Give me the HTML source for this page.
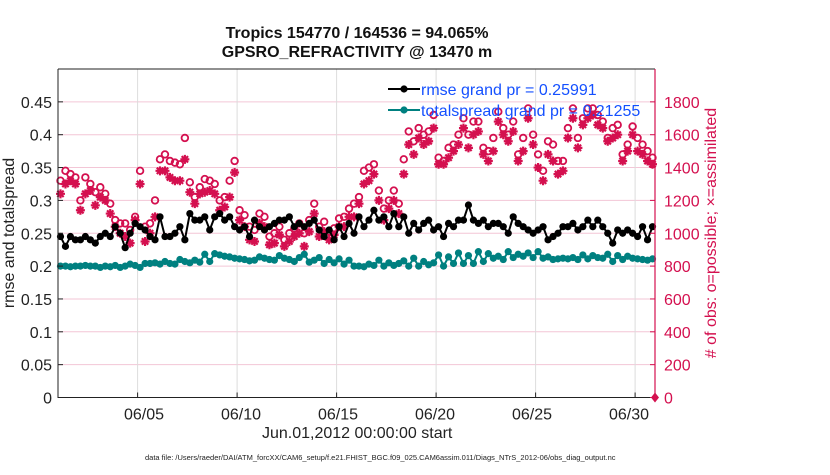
<!DOCTYPE html>
<html><head><meta charset="utf-8"><style>
body{margin:0;background:#fff;width:830px;height:470px;overflow:hidden;font-family:"Liberation Sans",sans-serif}
</style></head><body>
<svg id="c" width="830" height="470" xmlns="http://www.w3.org/2000/svg" font-family="Liberation Sans, sans-serif"></svg>
<script>
const xTicks=[5,10,15,20,25,30];
const xTickLabels=["06/05","06/10","06/15","06/20","06/25","06/30"];
const yTicks=[0,0.05,0.1,0.15,0.2,0.25,0.3,0.35,0.4,0.45];
const yTickLabels=["0","0.05","0.1","0.15","0.2","0.25","0.3","0.35","0.4","0.45"];
const y2Ticks=[0,200,400,600,800,1000,1200,1400,1600,1800];
const rmse=[0.245,0.23,0.245,0.24,0.24,0.245,0.24,0.235,0.245,0.25,0.245,0.26,0.25,0.228,0.25,0.265,
0.26,0.255,0.245,0.24,0.275,0.245,0.245,0.25,0.26,0.24,0.28,0.27,0.27,0.275,0.255,0.275,0.28,0.27,0.275,0.26,
0.255,0.26,0.245,0.27,0.26,0.255,0.26,0.265,0.27,0.27,0.275,0.26,0.265,0.26,0.265,0.27,0.255,0.245,0.255,0.24,
0.26,0.245,0.265,0.25,0.275,0.26,0.27,0.285,0.27,0.275,0.26,0.28,0.26,0.275,0.25,0.265,0.255,0.265,0.27,0.255,
0.26,0.245,0.265,0.26,0.27,0.27,0.293,0.27,0.265,0.27,0.26,0.265,0.265,0.26,0.25,0.275,0.265,0.26,0.255,0.25,
0.255,0.26,0.24,0.245,0.25,0.26,0.26,0.265,0.255,0.26,0.27,0.26,0.27,0.26,0.25,0.235,0.255,0.25,0.255,0.25,0.245,0.26,0.24,0.26];
const spread=[0.2,0.2,0.199,0.2,0.2,0.201,0.2,0.2,0.198,0.2,0.199,0.201,0.198,0.2,0.203,0.201,
0.198,0.204,0.204,0.205,0.203,0.207,0.204,0.203,0.21,0.207,0.205,0.209,0.206,0.218,0.207,0.219,0.217,0.215,0.214,0.212,
0.211,0.21,0.208,0.209,0.214,0.212,0.21,0.209,0.216,0.212,0.21,0.207,0.213,0.218,0.206,0.209,0.213,0.204,0.21,0.205,
0.211,0.203,0.209,0.2,0.2,0.199,0.203,0.201,0.209,0.2,0.205,0.201,0.204,0.208,0.2,0.212,0.2,0.207,0.202,0.205,
0.217,0.2,0.214,0.204,0.22,0.204,0.216,0.204,0.222,0.207,0.219,0.212,0.215,0.21,0.222,0.213,0.218,0.215,0.22,0.213,
0.222,0.212,0.214,0.21,0.211,0.212,0.211,0.213,0.21,0.217,0.211,0.216,0.213,0.212,0.218,0.207,0.216,0.21,0.215,0.212,0.211,0.21,0.209,0.211];
const possible=[1320,1380,1360,1340,1200,1340,1300,1250,1280,1240,1180,1080,1060,1060,1020,1100,
1380,1040,1060,1200,1450,1480,1440,1430,1420,1580,1310,1220,1280,1330,1320,1300,1200,1220,1320,1440,
1140,1110,1040,1020,1120,1100,980,1000,1040,960,1000,1030,1060,1000,1080,1180,1040,1070,1010,1030,
1090,1100,1150,1180,1220,1380,1400,1420,1260,1150,1200,1260,1180,1450,1620,1560,1640,1600,1620,1720,
1460,1440,1520,1540,1600,1700,1600,1680,1680,1520,1500,1580,1740,1640,1600,1680,1480,1580,1760,1600,
1480,1380,1560,1540,1440,1440,1640,1760,1580,1700,1760,1760,1720,1680,1580,1640,1660,1480,1540,1650,1580,1540,1500,1460];
const assimilated=[1240,1300,1320,1300,1140,1240,1260,1170,1220,1200,1120,1040,1000,980,940,1080,
1300,950,1000,1100,1380,1380,1340,1320,1320,1450,1250,1180,1240,1250,1260,1240,1140,1160,1220,1370,
1080,1040,960,950,1060,1040,930,940,990,920,950,980,1000,920,1010,1120,980,1010,960,990,
1040,1040,1100,1100,1180,1300,1320,1360,1200,1080,1150,1200,1120,1360,1540,1480,1580,1540,1560,1640,
1420,1420,1460,1500,1540,1640,1520,1600,1620,1480,1440,1500,1680,1600,1560,1620,1440,1500,1700,1540,
1400,1320,1480,1440,1360,1380,1580,1700,1520,1660,1700,1720,1660,1640,1560,1580,1600,1440,1500,1600,1500,1480,1440,1420];
const L=58,R=655,T=69,B=397.5;
const xS=d=>L+(d-1)/30*(R-L);
const xLab=d=>144+(d-5)*19.4;
const yS=v=>B-v/0.5*(B-T);
const y2S=v=>B-v/2000*(B-T);
const svg=document.getElementById('c');
const NS='http://www.w3.org/2000/svg';
function mk(tag,a,txt){const e=document.createElementNS(NS,tag);for(const k in a)e.setAttribute(k,a[k]);if(txt!==undefined)e.textContent=txt;svg.appendChild(e);return e;}
const tday=i=>1+(i+0.5)/4;
yTicks.forEach((v,i)=>{if(v>0){const g=mk('line',{x1:L,x2:R,y1:yS(v),y2:yS(v),stroke:'#f3c6d6','stroke-width':1});

}});
xTicks.forEach(d=>{const g=mk('line',{x1:xS(d),x2:xS(d),y1:T,y2:B,stroke:'#dcdcdc','stroke-width':1});

});
possible.forEach((v,i)=>{const c=mk('circle',{cx:xS(tday(i)),cy:y2S(v),r:3.3,fill:'none',stroke:'#d4104f','stroke-width':1.8});

});
assimilated.forEach((v,i)=>{const x=xS(tday(i)),y=y2S(v),s=4.5;let d='';
for(let k=0;k<4;k++){const a=k*Math.PI/4;d+=`M${x-s*Math.cos(a)},${y-s*Math.sin(a)}L${x+s*Math.cos(a)},${y+s*Math.sin(a)}`;}
const p=mk('path',{d:d,stroke:'#d4104f','stroke-width':2.2});

});
function series(arr,col,name){const pts=arr.map((v,i)=>xS(tday(i))+','+yS(v)).join(' ');
const pl=mk('polyline',{points:pts,fill:'none',stroke:col,'stroke-width':2});


arr.forEach((v,i)=>{const c=mk('circle',{cx:xS(tday(i)),cy:yS(v),r:3.6,fill:col});

});}
series(spread,'#008080','totalspread');
series(rmse,'#000000','rmse');
const ax=mk('path',{d:`M${L},${T}H${R}M${L},${T}V${B}H${R}`,stroke:'#222','stroke-width':1,fill:'none'});


const ra=mk('line',{x1:R,x2:R,y1:T,y2:B,stroke:'#d4104f','stroke-width':1.2});


const dm=mk('path',{d:`M${R},${B-5}L${R+4},${B}L${R},${B+5}L${R-4},${B}Z`,fill:'#d4104f'});


yTicks.forEach((v,i)=>{mk('line',{x1:L,x2:L+5,y1:yS(v),y2:yS(v),stroke:'#222'});
const t=mk('text',{x:L-6,y:yS(v)+6,'text-anchor':'end','font-size':16,fill:'#222'},yTickLabels[i]);

});
y2Ticks.forEach(v=>{mk('line',{x1:R-5,x2:R,y1:y2S(v),y2:y2S(v),stroke:'#d4104f'});
const t=mk('text',{x:R+9,y:y2S(v)+6,'font-size':16,fill:'#d4104f'},String(v));

});
xTicks.forEach((d,i)=>{mk('line',{x1:xS(d),x2:xS(d),y1:B,y2:B-5,stroke:'#222'});
const t=mk('text',{x:xLab(d),y:B+22,'text-anchor':'middle','font-size':16,fill:'#222'},xTickLabels[i]);

});
[['rmse grand pr = 0.25991','#000',89],['totalspread grand pr = 0.21255','#008080',110]].forEach(([s,c,y],i)=>{
const l=mk('line',{x1:388,x2:420,y1:y,y2:y,stroke:c,'stroke-width':2});


mk('circle',{cx:404,cy:y,r:3.6,fill:c});
const t=mk('text',{x:421,y:y+6,'font-size':16,fill:'#1450ff'},s);

});
</script>
<div style="position:absolute;left:157px;top:24px;width:400px;text-align:center;font-weight:bold;font-size:16px;line-height:19px;color:#111">Tropics 154770 / 164536 = 94.065%<br>GPSRO_REFRACTIVITY @ 13470 m</div>
<div style="position:absolute;left:10px;top:233px;transform:translate(-50%,-50%) rotate(-90deg);white-space:nowrap;font-size:16px;color:#222">rmse and totalspread</div>
<div style="position:absolute;left:712px;top:233px;transform:translate(-50%,-50%) rotate(-90deg);white-space:nowrap;font-size:16px;color:#d4104f">#&nbsp;of obs: o=possible; ×=assimilated</div>
<div style="position:absolute;left:262px;top:425px;font-size:16px;color:#222">Jun.01,2012 00:00:00 start</div>
<div style="position:absolute;left:145px;top:453px;font-size:7.5px;color:#222;white-space:nowrap">data file: /Users/raeder/DAI/ATM_forcXX/CAM6_setup/f.e21.FHIST_BGC.f09_025.CAM6assim.011/Diags_NTrS_2012-06/obs_diag_output.nc</div>
</body></html>
